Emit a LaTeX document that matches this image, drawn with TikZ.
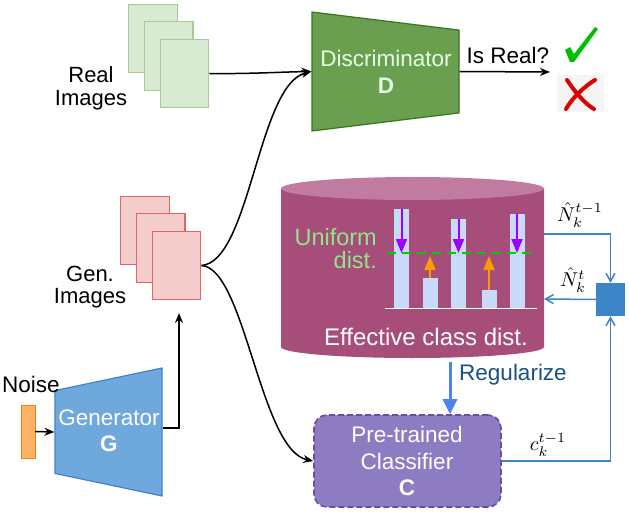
\documentclass[tikz,border=0pt]{standalone}
\usepackage{amsmath}
\usepackage{fontspec}
\setmainfont{Liberation Sans}
\usetikzlibrary{arrows.meta,shapes.geometric,positioning}

\definecolor{realfill}{HTML}{D9EAD3}
\definecolor{realline}{HTML}{A3CB96}
\definecolor{genfill}{HTML}{F4CCCC}
\definecolor{genline}{HTML}{E06666}
\definecolor{discfill}{HTML}{6A9F50}
\definecolor{discline}{HTML}{38761D}
\definecolor{genrfill}{HTML}{6FA8DC}
\definecolor{genrline}{HTML}{3D85C6}
\definecolor{clsfill}{HTML}{8E7CC3}
\definecolor{clsline}{HTML}{674EA7}
\definecolor{cylbody}{HTML}{A64D79}
\definecolor{cyltop}{HTML}{C27BA0}
\definecolor{barfill}{HTML}{C9DAF8}
\definecolor{downcol}{HTML}{9900FF}
\definecolor{upcol}{HTML}{FF9900}
\definecolor{unicol}{HTML}{93E58A}
\definecolor{regcol}{HTML}{4A86E8}
\definecolor{regtext}{HTML}{1C4F80}

\tikzset{
  txt/.style={font=\fontsize{22.5}{26.5}\selectfont,align=center,inner sep=0pt},
  tighttxt/.style={font=\fontsize{22}{22.5}\selectfont,align=center,inner sep=0pt},
  mathtxt/.style={scale=2,inner sep=0pt},
  realpage/.style={draw=realline,fill=realfill,line width=1.2pt,minimum width=48.5pt,minimum height=68.5pt,inner sep=0pt},
  genpage/.style={draw=genline,fill=genfill,line width=1.2pt,minimum width=48.5pt,minimum height=68.5pt,inner sep=0pt},
  funnel/.style={trapezium,trapezium stretches=true,inner sep=2pt,line width=1.2pt},
  flow/.style={-{Stealth[length=10pt,width=8pt]},line width=1.5pt,black},
  fback/.style={-{Straight Barb[length=8pt,width=9pt]},line width=1.5pt,genrline},
  hbar/.style={fill=barfill,draw=none,inner sep=0pt},
  downarr/.style={-{Triangle[length=14pt,width=11pt]},line width=2pt,downcol},
  uparr/.style={-{Triangle[length=14pt,width=11pt]},line width=2pt,upcol},
}

\begin{document}
\begin{tikzpicture}[x=1pt,y=-1pt]
\useasboundingbox (0,0) rectangle (629,513);

% image stacks
\node[realpage] (real1) at (153,38.5) {};
\node[realpage] (real2) [below right=-52.2pt and -33.9pt of real1] {};
\node[realpage] (real3) [below right=-52.2pt and -33.9pt of real2] {};
\node[tighttxt] (realtxt) at (91,88.5) {Real\\Images};

\node[genpage] (gen1) at (145,230.5) {};
\node[genpage] (gen2) [below right=-52.2pt and -33.9pt of gen1] {};
\node[genpage] (gen3) [below right=-52.2pt and -33.9pt of gen2] {};
\node[tighttxt] (gentxt) at (90,287) {Gen.\\Images};

% networks
\node[funnel,draw=discline,fill=discfill,shape border rotate=270,trapezium angle=77.7,
      minimum width=119pt,minimum height=147pt] (D) at (385.5,71.5) {};
\node[txt,text=white!90!green] (Dtxt) at (386,72) {Discriminator\\\textbf{D}};

\node[funnel,draw=genrline,fill=genrfill,shape border rotate=90,trapezium angle=74.8,
      minimum width=128pt,minimum height=107pt] (G) at (108.5,432) {};
\node[txt,text=white] (Gtxt) at (109,431) {Generator\\\textbf{G}};

\node[draw=orange!80!brown,fill=orange!60,minimum width=14pt,minimum height=53pt,inner sep=0pt] (noise) at (28,431.5) {};
\node[txt] (noisetxt) at (31,384) {Noise};

\node[draw=clsline,fill=clsfill,dashed,dash pattern=on 6pt off 3pt,line width=1.6pt,rounded corners=13pt,
      minimum width=187pt,minimum height=92pt,inner sep=0pt] (C) at (407.5,461) {};
\node[txt,text=white] (Ctxt) at (407,461) {Pre-trained\\Classifier\\\textbf{C}};

% class distribution
\path[fill=cylbody] (281,188.5) -- (281,347) arc[start angle=180,end angle=360,x radius=131.5pt,y radius=11pt]
      -- (544,188.5) -- cycle;
\node[ellipse,fill=cyltop,minimum width=263pt,minimum height=23pt,inner sep=0pt] (cyl) at (412.5,188.5) {};
\coordinate (Nin) at (544,234);
\coordinate (Nout) at (544,299);
\coordinate (cylbot) at (450,362);

\foreach \name/\x/\top in {b1/401.5/209,b2/430/278,b3/458.5/219,b4/489/290,b5/517/214}{
  \path[hbar] (\x-7.5,\top) rectangle (\x+7.5,308);
  \coordinate (\name) at (\x,\top);
  \coordinate (\name l) at (\x,253);
}
\coordinate (basea) at (385,308);
\coordinate (baseb) at (537,308);
\draw[white,line width=1pt] (basea) -- (baseb);
\draw[downarr] (b1) -- (b1l);
\draw[downarr] (b3) -- (b3l);
\draw[downarr] (b5) -- (b5l);
\draw[uparr] (b2) -- ([yshift=-3pt]b2l);
\draw[uparr] (b4) -- ([yshift=-3pt]b4l);
\coordinate (unia) at (387,253);
\coordinate (unib) at (533,253);
\draw[green!80!black,line width=1.5pt,dash pattern=on 9pt off 6pt] (unia) -- (unib);
\node[txt,font=\fontsize{23.5}{23}\selectfont,anchor=east,align=right,text=unicol] (unitxt) at (377,248.5) {Uniform\\dist.};
\node[txt,font=\fontsize{24}{26}\selectfont,text=white] (efftxt) at (426,337) {Effective class dist.};

% update box
\node[fill=genrline,minimum width=29pt,minimum height=33pt,inner sep=0pt] (upd) at (610.5,299.5) {};
\node[mathtxt] (Nold) at (580,215) {$\hat{N}_k^{t-1}$};
\node[mathtxt] (Nnew) at (573,280) {$\hat{N}_k^{t}$};
\node[mathtxt] (cold) at (548,445) {$c_k^{t-1}$};

\draw[fback] (Nin) -| (upd.north);
\draw[fback] (upd.west) -- (Nout);
\draw[fback] (C.east) -| (upd.south);

% connectors
\coordinate (genin) at (179,313);
\coordinate (ans) at (550,72);
\draw[flow] (noise.east) -- (G.west);
\draw[flow] ([yshift=4pt]G.east) -| (genin);
\draw[flow] (real3.east) .. controls (250,74) and (280,72) .. (D.west);
\draw[flow] (gen3.east) .. controls (250,262) and (258,85) .. (D.west);
\draw[flow] (gen3.east) .. controls (245,268) and (260,450) .. (C.west);
\node[txt] (isreal) at (508,55) {Is Real?};
\draw[flow] (D.east) -- (ans);
\draw[-{Triangle[length=15pt,width=14pt]},line width=3pt,regcol] (cylbot) -- (cylbot |- C.north);
\node[txt,text=regtext] (regtxt) at (513,375) {Regularize};

% verdict marks
\fill[green!75!black] (565,50) -- (570,47) -- (574,54) -- (595,27) -- (598,29) -- (574,62) -- (570,62) -- cycle;
\fill[black!4] (557,75) rectangle (604,112);
\draw[red!85!black,line width=4pt,line cap=round] (567,80) .. controls (575,92) and (585,104) .. (594,109);
\draw[red!85!black,line width=4pt,line cap=round] (595,80) .. controls (585,86) and (572,98) .. (566,109);
\end{tikzpicture}
\end{document}
